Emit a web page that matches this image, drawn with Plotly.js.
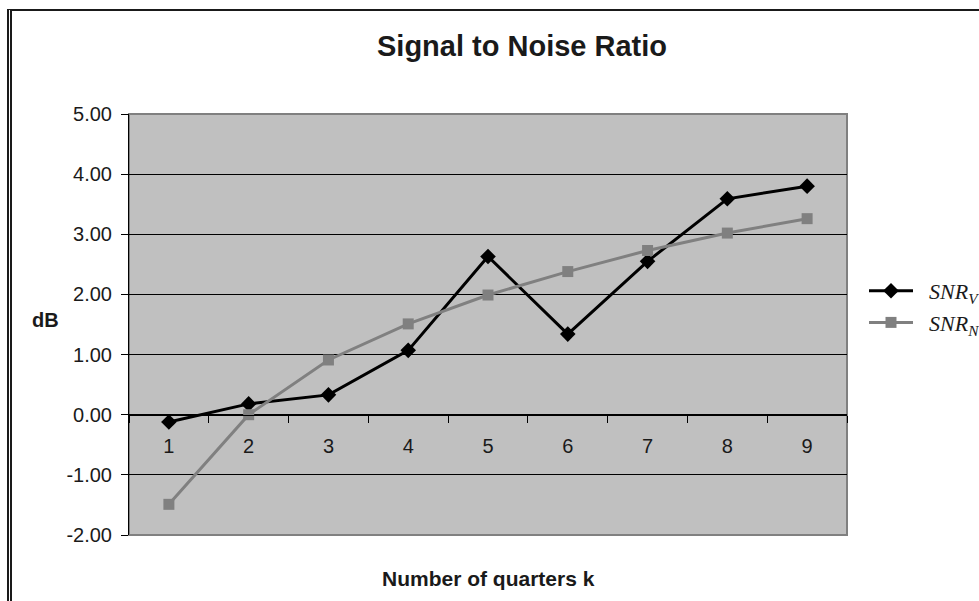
<!DOCTYPE html>
<html>
<head>
<meta charset="utf-8">
<script src="https://cdn.plot.ly/plotly-3.0.1.min.js"></script>
<style>
  html, body { margin: 0; padding: 0; background: #fff; overflow: hidden; }
  #wrap { position: relative; width: 979px; height: 601px; overflow: hidden; }
  #frame { position: absolute; left: 7px; top: 9px; width: 1100px; height: 800px;
           border-left: 5px double #1a1a1a; border-top: 2px solid #1a1a1a; pointer-events: none; }
  #chart { position: absolute; left: 0; top: 0; width: 979px; height: 601px; }
</style>
</head>
<body>
<div id="wrap">
  <div id="chart"></div>
  <div id="frame"></div>
</div>
<script>
const quarters = ['1', '2', '3', '4', '5', '6', '7', '8', '9'];
const snrV = [-0.12, 0.18, 0.33, 1.07, 2.63, 1.34, 2.55, 3.59, 3.80];
const snrN = [-1.49, 0.00, 0.91, 1.51, 1.99, 2.38, 2.73, 3.02, 3.26];
const yTicks = [-2, -1, 0, 1, 2, 3, 4, 5];
const yTickText = yTicks.map(v => v.toFixed(2));
const seriesNames = ['<i>SNR<sub>V</sub></i>', '<i>SNR<sub>N</sub></i>'];

const pad = '\u00a0\u00a0';
const traces = [
  {
    x: quarters, y: snrV, name: pad + seriesNames[0], type: 'scatter', mode: 'lines+markers',
    line: {color: '#000000', width: 3},
    marker: {symbol: 'diamond', size: 12, color: '#000000'},
    cliponaxis: false
  },
  {
    x: quarters, y: snrN, name: pad + seriesNames[1], type: 'scatter', mode: 'lines+markers',
    line: {color: '#808080', width: 3},
    marker: {symbol: 'square', size: 11, color: '#808080'},
    cliponaxis: false
  }
];

const layout = {
  width: 979, height: 601,
  margin: {l: 129, r: 132, t: 114, b: 66, autoexpand: false},
  paper_bgcolor: 'rgba(0,0,0,0)',
  plot_bgcolor: '#c0c0c0',
  font: {family: 'Liberation Sans, Arial, sans-serif', color: '#1a1a1a'},
  title: {
    text: '<b>Signal to Noise Ratio</b>',
    font: {size: 29, family: 'Liberation Sans, Arial, sans-serif', color: '#1a1a1a'},
    xref: 'container', yref: 'container', x: 522 / 979, y: 1 - 46 / 601,
    xanchor: 'center', yanchor: 'middle'
  },
  xaxis: {
    type: 'category', categoryorder: 'array', categoryarray: quarters,
    range: [-0.5, 8.5], anchor: 'free', position: 2 / 7,
    tickson: 'boundaries', ticks: 'outside', ticklen: 7, tickcolor: '#000', tickwidth: 1,
    showline: true, linecolor: '#000', linewidth: 1,
    showgrid: false, zeroline: false,
    tickfont: {size: 20, color: '#1a1a1a'}, ticklabelstandoff: 13,
    fixedrange: true
  },
  yaxis: {
    range: [-2, 5], tickvals: yTicks, ticktext: yTickText,
    ticks: 'outside', ticklen: 7, tickcolor: '#000', tickwidth: 1,
    showline: true, linecolor: '#000', linewidth: 1,
    showgrid: true, gridcolor: '#000', gridwidth: 1,
    zeroline: true, zerolinecolor: '#000', zerolinewidth: 1,
    tickfont: {size: 20, color: '#1a1a1a'}, ticklabelstandoff: 5,
    fixedrange: true
  },
  shapes: [
    {type: 'rect', xref: 'paper', yref: 'paper', x0: 0, x1: 1, y0: 0, y1: 1,
     line: {color: '#808080', width: 2}, layer: 'below'}
  ],
  annotations: [
    {text: '<b>Number of quarters k</b>', xref: 'paper', yref: 'paper',
     x: 0.5, y: (535 - 578) / 421, xanchor: 'center', yanchor: 'middle', showarrow: false,
     font: {size: 21, color: '#1a1a1a'}},
    {text: '<b>dB</b>', xref: 'paper', yref: 'paper',
     x: (45 - 129) / 718, y: (535 - 320) / 421, xanchor: 'center', yanchor: 'middle', showarrow: false,
     font: {size: 20, color: '#1a1a1a'}}
  ],
  showlegend: true,
  legend: {
    x: (864 - 129) / 718, y: (535 - 307) / 421, xanchor: 'left', yanchor: 'middle',
    bgcolor: 'rgba(0,0,0,0)', borderwidth: 0,
    font: {family: 'Liberation Serif, Times New Roman, serif', size: 22, color: '#1a1a1a'},
    itemwidth: 44
  }
};

Plotly.newPlot('chart', traces, layout, {displayModeBar: false, staticPlot: true});
</script>
</body>
</html>
